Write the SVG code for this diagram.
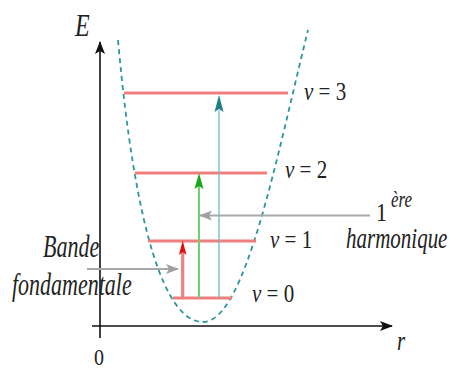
<svg xmlns="http://www.w3.org/2000/svg" width="449" height="369" viewBox="0 0 449 369">
<style>
text{font-family:'Liberation Serif','Times New Roman',serif;fill:#222}
.i{font-style:italic}
.lvl{stroke:#ef7f7f;stroke-width:3;fill:none}
.ax{stroke:#111;stroke-width:1.6;fill:none}
.gr{stroke:#a8a8a8;stroke-width:2;fill:none}
</style>
<defs>
<marker id="ahK" markerUnits="userSpaceOnUse" markerWidth="14" markerHeight="12" viewBox="0 0 14 12" refX="12" refY="6" orient="auto"><path d="M0,1 L13,6 L0,11 L3,6 Z" fill="#111"/></marker>
<marker id="ahG" markerUnits="userSpaceOnUse" markerWidth="14" markerHeight="12" viewBox="0 0 14 12" refX="12" refY="6" orient="auto"><path d="M0,1 L13,6 L0,11 L3,6 Z" fill="#a0a0a0"/></marker>
</defs>
<g id="curve">
<path d="M118,40 C135,230 165,322 203,322 C245,322 276,160 308,30" fill="none" stroke="#2b959b" stroke-width="1.8" stroke-dasharray="5,4"/>
</g>
<g id="axes">
<line class="ax" x1="100" y1="338" x2="100" y2="42" marker-end="url(#ahK)"/>
<line class="ax" x1="92" y1="326" x2="392" y2="326" marker-end="url(#ahK)"/>
</g>
<g id="level-v3"><line class="lvl" x1="124" y1="93" x2="288" y2="93"/><text transform="translate(304,100) scale(1.05,1.3)" font-size="20"><tspan class="i">v</tspan> = 3</text></g>
<g id="level-v2"><line class="lvl" x1="135" y1="173" x2="267" y2="173"/><text transform="translate(285,178) scale(1.05,1.3)" font-size="20"><tspan class="i">v</tspan> = 2</text></g>
<g id="level-v1"><line class="lvl" x1="148" y1="241" x2="256" y2="241"/><text transform="translate(270,248) scale(1.05,1.25)" font-size="20"><tspan class="i">v</tspan> = 1</text></g>
<g id="level-v0"><line class="lvl" x1="173" y1="298" x2="232" y2="298"/><text transform="translate(252,302) scale(1.05,1.25)" font-size="20"><tspan class="i">v</tspan> = 0</text></g>
<g id="connectors">
<line x1="219" y1="298" x2="219" y2="110" stroke="#6cbcc0" stroke-width="1.3"/>
<path d="M219,95 L223.5,112 L219,109 L214.5,112 Z" fill="#1f7f85"/>
<line x1="199" y1="298" x2="199" y2="186" stroke="#6fd16f" stroke-width="2"/>
<path d="M199,173 L203.5,189 L199,186 L194.5,189 Z" fill="#1aa51a"/>
<line x1="182.7" y1="298" x2="182.7" y2="252" stroke="#ef7f7f" stroke-width="3.2"/>
<path d="M182.7,240.5 L186.5,255 L182.7,252 L178.9,255 Z" fill="#e01010"/>
<line class="gr" x1="87" y1="269" x2="178" y2="269" marker-end="url(#ahG)"/>
<line class="gr" x1="370" y1="215.5" x2="200" y2="215.5" marker-end="url(#ahG)"/>
</g>
<g id="labels">
<text class="i" transform="translate(75,36) scale(1,1.3)" font-size="24">E</text>
<text transform="translate(94,365) scale(1,1.2)" font-size="20">0</text>
<text class="i" transform="translate(397,350) scale(1,1.3)" font-size="21">r</text>
<text class="i" transform="translate(43,257) scale(1,1.45)" font-size="22">Bande</text>
<text class="i" transform="translate(12,295) scale(1,1.45)" font-size="22">fondamentale</text>
<text transform="translate(376,221) scale(1.1,1.25)" font-size="20">1</text>
<text class="i" transform="translate(391,207) scale(1,1.3)" font-size="17">ère</text>
<text class="i" transform="translate(346,248) scale(1,1.45)" font-size="21">harmonique</text>
</g>
</svg>
